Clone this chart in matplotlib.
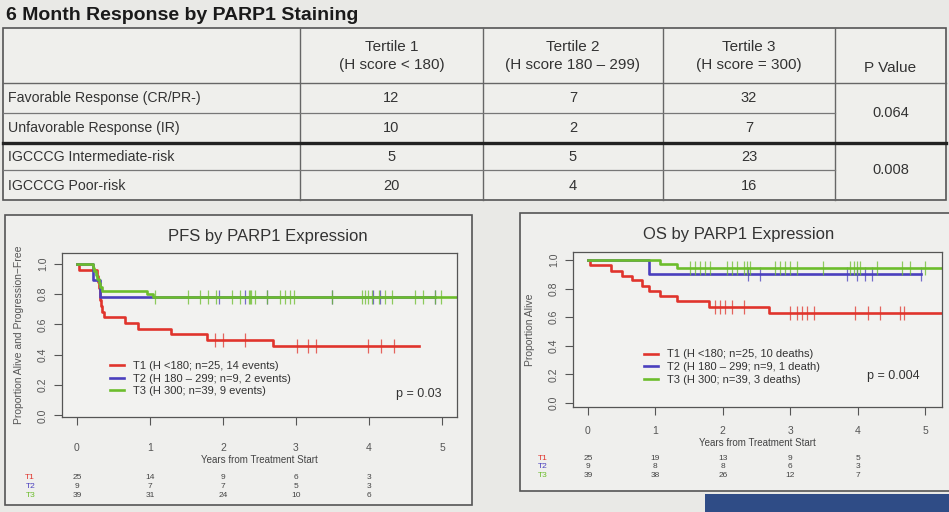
import numpy as np
import matplotlib.pyplot as plt
from matplotlib.patches import Rectangle
import matplotlib.transforms as mtransforms

plt.rcParams['font.family'] = ['Liberation Sans', 'DejaVu Sans']

# table data
table_title = "6 Month Response by PARP1 Staining"
col_headers = ["Tertile 1\n(H score < 180)", "Tertile 2\n(H score 180 \u2013 299)",
               "Tertile 3\n(H score = 300)", "P Value"]
row_labels = ["Favorable Response (CR/PR-)", "Unfavorable Response (IR)",
              "IGCCCG Intermediate-risk", "IGCCCG Poor-risk"]
tertile1 = [12, 10, 5, 20]
tertile2 = [7, 2, 5, 4]
tertile3 = [32, 7, 23, 16]
p_values = ["0.064", "0.008"]

# curve data (times in years, survival)
pfs_t1_times = [0, 0.03, 0.28, 0.29, 0.30, 0.31, 0.32, 0.33, 0.34, 0.37, 0.66, 0.83, 1.29, 1.78, 2.69]
pfs_t1_surv = [1.0, 0.96, 0.92, 0.88, 0.84, 0.80, 0.76, 0.72, 0.68, 0.65, 0.61, 0.57, 0.535, 0.50, 0.46]
pfs_t1_end = 4.68
pfs_t1_cens = [1.89, 2.0, 2.30, 3.01, 3.17, 3.28, 3.99, 4.17, 4.34]

pfs_t2_times = [0, 0.22, 0.32]
pfs_t2_surv = [1.0, 0.89, 0.78]
pfs_t2_end = 4.9
pfs_t2_cens = [1.95, 2.3, 2.6, 3.49, 4.05, 4.15, 4.9]

pfs_t3_times = [0, 0.22, 0.24, 0.26, 0.28, 0.30, 0.32, 0.34, 0.96, 1.04]
pfs_t3_surv = [1.0, 0.974, 0.949, 0.923, 0.897, 0.872, 0.846, 0.82, 0.80, 0.78]
pfs_t3_end = 5.2
pfs_t3_cens = [1.07, 1.52, 1.68, 1.80, 1.91, 2.12, 2.23, 2.35, 2.37, 2.39, 2.44, 2.60,
               2.78, 2.85, 2.92, 2.97, 3.49, 3.90, 3.95, 3.99, 4.04, 4.13, 4.22, 4.31,
               4.63, 4.74, 4.90, 4.98]

os_t1_times = [0, 0.03, 0.35, 0.50, 0.65, 0.80, 0.90, 1.07, 1.32, 1.79, 2.68]
os_t1_surv = [1.0, 0.965, 0.925, 0.89, 0.86, 0.82, 0.78, 0.745, 0.71, 0.67, 0.63]
os_t1_end = 5.3
os_t1_cens = [1.88, 1.96, 2.03, 2.13, 2.31, 3.0, 3.10, 3.17, 3.25, 3.35, 3.96, 4.16, 4.33, 4.63, 4.68]

os_t2_times = [0, 0.91]
os_t2_surv = [1.0, 0.90]
os_t2_end = 4.94
os_t2_cens = [2.38, 2.55, 3.84, 3.99, 4.11, 4.21, 4.94]

os_t3_times = [0, 1.07, 1.32]
os_t3_surv = [1.0, 0.97, 0.945]
os_t3_end = 5.3
os_t3_cens = [1.51, 1.59, 1.66, 1.74, 1.81, 2.06, 2.13, 2.21, 2.31, 2.36, 2.40, 2.78, 2.85,
              2.93, 3.00, 3.10, 3.49, 3.89, 3.94, 3.99, 4.04, 4.28, 4.65, 4.78, 5.0]

pfs_labels = ["T1 (H <180; n=25, 14 events)", "T2 (H 180 \u2013 299; n=9, 2 events)",
              "T3 (H 300; n=39, 9 events)"]
os_labels = ["T1 (H <180; n=25, 10 deaths)", "T2 (H 180 \u2013 299; n=9, 1 death)",
             "T3 (H 300; n=39, 3 deaths)"]
pfs_at_risk = [[25, 14, 9, 6, 3], [9, 7, 7, 5, 3], [39, 31, 24, 10, 6]]
os_at_risk = [[25, 19, 13, 9, 5], [9, 8, 8, 6, 3], [39, 38, 26, 12, 7]]
risk_times = [0, 1, 2, 3, 4]

colors = ['#e0342c', '#4a3fbe', '#6cbd2c']
group_names = ['T1', 'T2', 'T3']

W, H = 949, 512
fig = plt.figure(figsize=(W / 100, H / 100), dpi=100, facecolor='#e9e9e6')


def fig_rect(x0, y0, x1, y1):
    # pixel box (top-left origin) -> figure fraction
    return [x0 / W, 1 - y1 / H, (x1 - x0) / W, (y1 - y0) / H]


# ---- table ----
tab = fig.add_axes([0, 0, 1, 1], facecolor='none')
tab.set_xlim(0, W)
tab.set_ylim(H, 0)
tab.axis('off')
tab.text(6, 15, table_title, fontsize=14, fontweight='bold', va='center', color='#1a1a1a')
xs = [3, 300, 483, 663, 835, 946]
ys = [28, 83, 113, 143, 170, 200]
tab.add_patch(Rectangle((xs[0], ys[0]), xs[-1] - xs[0], ys[-1] - ys[0],
                        facecolor='#efefec', edgecolor='#555555', lw=1.2))
for x in xs[1:-1]:
    tab.plot([x, x], [ys[0], ys[-1]], color='#666666', lw=1)
tab.plot([xs[0], xs[-1]], [ys[1], ys[1]], color='#666666', lw=1)
tab.plot([xs[0], xs[4]], [ys[2], ys[2]], color='#777777', lw=0.9)
tab.plot([xs[0], xs[-1]], [ys[3], ys[3]], color='#222222', lw=2.4)
tab.plot([xs[0], xs[4]], [ys[4], ys[4]], color='#777777', lw=0.9)

col_centers = [(xs[i] + xs[i + 1]) / 2 for i in range(1, 5)]
for i, hdr in enumerate(col_headers[:3]):
    tab.text(col_centers[i], 56, hdr, ha='center', va='center', fontsize=11,
             color='#333333', linespacing=1.45)
tab.text(col_centers[3], 68, col_headers[3], ha='center', va='center', fontsize=11, color='#333333')
row_y = [98, 128, 157, 186]
for r, lab in enumerate(row_labels):
    tab.text(8, row_y[r], lab, ha='left', va='center', fontsize=10.2, color='#333333')
    for c, vals in enumerate([tertile1, tertile2, tertile3]):
        tab.text(col_centers[c], row_y[r], str(vals[r]), ha='center', va='center',
                 fontsize=10.5, color='#333333')
tab.text(col_centers[3], 113, p_values[0], ha='center', va='center', fontsize=10.5, color='#333333')
tab.text(col_centers[3], 170, p_values[1], ha='center', va='center', fontsize=10.5, color='#333333')

# panel frames and blue poster strip
tab.add_patch(Rectangle((5, 215), 467, 290, facecolor='#efefed', edgecolor='#555555', lw=1.2))
tab.add_patch(Rectangle((520, 213), 440, 278, facecolor='#efefed', edgecolor='#555555', lw=1.2))
tab.add_patch(Rectangle((705, 494), 260, 30, facecolor='#2f4c86', edgecolor='none'))


def km_panel(rect, xlim, ylim, title, title_x, ylabel, curves, labels, at_risk,
             pval, leg_anchor, p_pos, risk_y, name_x, tick_y_pad):
    ax = fig.add_axes(rect, facecolor='#f2f2f0')
    for (times, surv, end, cens), col, lab in zip(curves, colors, labels):
        tt = list(times) + [end]
        ss = list(surv) + [surv[-1]]
        ax.step(tt, ss, where='post', color=col, lw=1.9, label=lab)
        idx = np.searchsorted(times, cens, side='right') - 1
        ax.plot(cens, np.array(surv)[idx], ls='none', marker='|', ms=10, mew=0.9,
                color=col, alpha=0.75)
    ax.set_xlim(*xlim)
    ax.set_ylim(*ylim)
    ax.set_xticks([0, 1, 2, 3, 4, 5])
    ax.set_yticks([0.0, 0.2, 0.4, 0.6, 0.8, 1.0])
    ax.set_yticklabels(['0.0', '0.2', '0.4', '0.6', '0.8', '1.0'], rotation=90, va='center')
    ax.tick_params(axis='x', length=6, width=0.8, pad=tick_y_pad, labelsize=7.5,
                   colors='#555555')
    ax.tick_params(axis='y', length=6, width=0.8, pad=4, labelsize=7.5, colors='#555555')
    for sp in ax.spines.values():
        sp.set_color('#555555')
        sp.set_linewidth(0.9)
    ax.set_title(title, fontsize=12, color='#333333', x=title_x, pad=9)
    ax.set_xlabel('Years from Treatment Start', fontsize=7, color='#444444', labelpad=1)
    ax.set_ylabel(ylabel, fontsize=7.5, color='#555555', labelpad=10)
    leg = ax.legend(loc='upper left', bbox_to_anchor=leg_anchor, frameon=False,
                    fontsize=8, handlelength=1.3, handletextpad=0.8, labelspacing=0.25,
                    borderaxespad=0)
    for t in leg.get_texts():
        t.set_color('#333333')
    ax.text(p_pos[0], p_pos[1], pval, transform=ax.transAxes, ha='right', va='center',
            fontsize=9, color='#333333')
    trans = mtransforms.blended_transform_factory(ax.transData, ax.transAxes)
    for g in range(3):
        ax.text(name_x, risk_y[g], group_names[g], transform=trans, ha='center',
                va='center', fontsize=6, color=colors[g], clip_on=False)
        for t, n in zip(risk_times, at_risk[g]):
            ax.text(t, risk_y[g], str(n), transform=trans, ha='center', va='center',
                    fontsize=6, color='#444444', clip_on=False)
    return ax


pfs_curves = [(pfs_t1_times, pfs_t1_surv, pfs_t1_end, pfs_t1_cens),
              (pfs_t2_times, pfs_t2_surv, pfs_t2_end, pfs_t2_cens),
              (pfs_t3_times, pfs_t3_surv, pfs_t3_end, pfs_t3_cens)]
os_curves = [(os_t1_times, os_t1_surv, os_t1_end, os_t1_cens),
             (os_t2_times, os_t2_surv, os_t2_end, os_t2_cens),
             (os_t3_times, os_t3_surv, os_t3_end, os_t3_cens)]

km_panel(fig_rect(62, 253, 457, 417), (-0.205, 5.205), (-0.01, 1.07),
         'PFS by PARP1 Expression', 0.52, 'Proportion Alive and Progression\u2212Free',
         pfs_curves, pfs_labels, pfs_at_risk, 'p = 0.03', (0.11, 0.37), (0.96, 0.14),
         [-0.37, -0.425, -0.48], -0.64, 13)

km_panel(fig_rect(573, 252, 942, 407), (-0.22, 5.25), (-0.028, 1.056),
         'OS by PARP1 Expression', 0.45, 'Proportion Alive',
         os_curves, os_labels, os_at_risk, 'p = 0.004', (0.18, 0.40), (0.94, 0.2),
         [-0.33, -0.385, -0.44], -0.67, 8)

fig.savefig('out.png', dpi=100, facecolor=fig.get_facecolor())
